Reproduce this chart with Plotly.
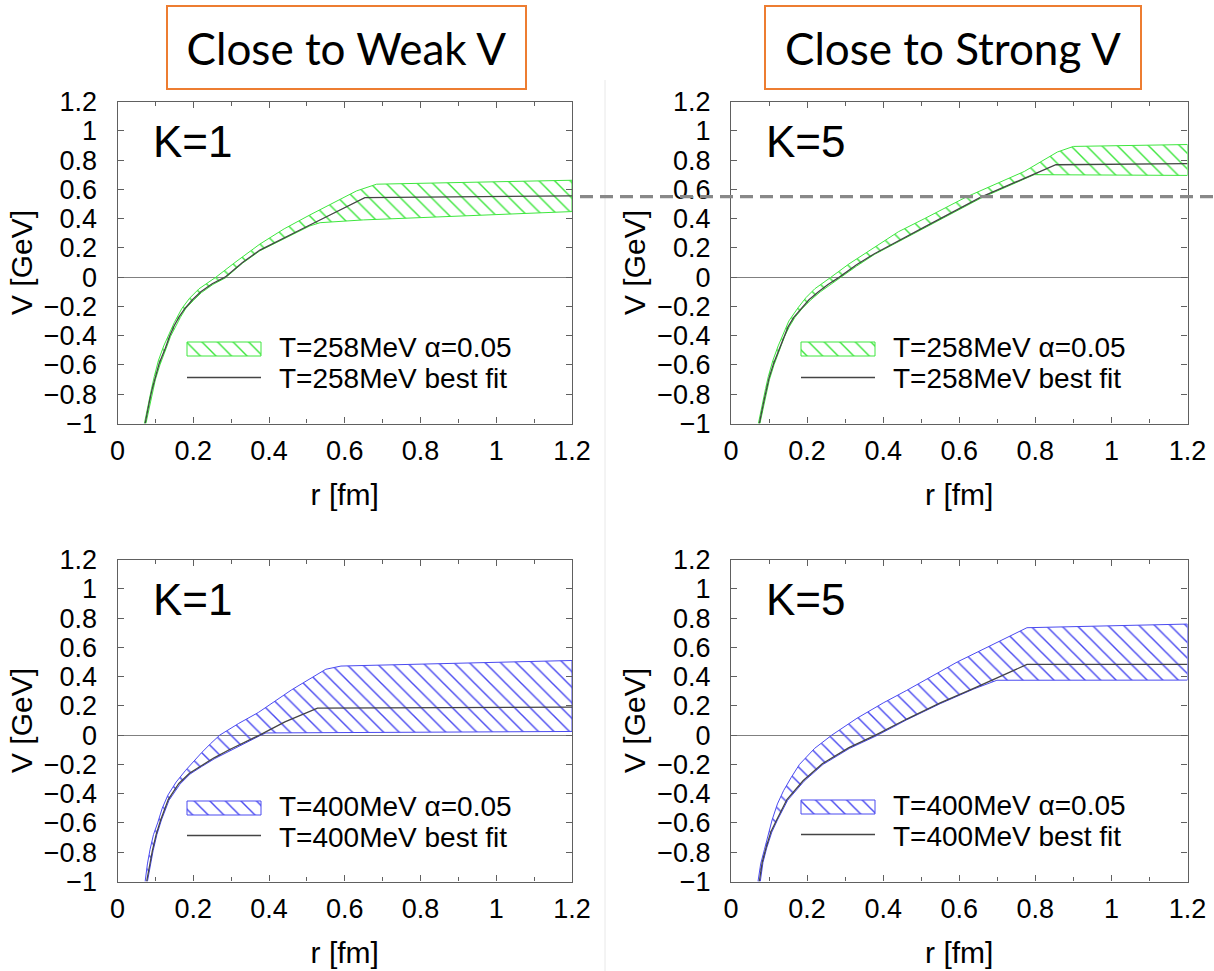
import plotly.graph_objects as go

# ---------------- data ----------------
r_ticks = [0, 0.2, 0.4, 0.6, 0.8, 1.0, 1.2]
r_ticktext = ["0", "0.2", "0.4", "0.6", "0.8", "1", "1.2"]
v_ticks = [-1, -0.8, -0.6, -0.4, -0.2, 0, 0.2, 0.4, 0.6, 0.8, 1.0, 1.2]
v_ticktext = ["\u22121", "\u22120.8", "\u22120.6", "\u22120.4", "\u22120.2", "0",
              "0.2", "0.4", "0.6", "0.8", "1", "1.2"]

col_titles = ["Close to Weak V", "Close to Strong V"]
k_labels = ["K=1", "K=5", "K=1", "K=5"]
band_names = ["T=258MeV \u03b1=0.05", "T=258MeV \u03b1=0.05",
              "T=400MeV \u03b1=0.05", "T=400MeV \u03b1=0.05"]
fit_names = ["T=258MeV best fit", "T=258MeV best fit",
             "T=400MeV best fit", "T=400MeV best fit"]
DASH_LEVEL = 0.55

# top-left: K=1, T=258 MeV
tl_fit_r = [0.073, 0.079, 0.085, 0.092, 0.099, 0.11, 0.126, 0.138, 0.15, 0.163, 0.178, 0.198, 0.22, 0.25, 0.284, 0.33, 0.376, 0.44, 0.508, 0.653, 1.2]
tl_fit_v = [-1.0, -0.915, -0.84, -0.76, -0.69, -0.59, -0.487, -0.40, -0.33, -0.27, -0.214, -0.155, -0.10, -0.045, 0.0, 0.10, 0.185, 0.27, 0.356, 0.543, 0.555]
tl_up_r = [0.071, 0.077, 0.083, 0.09, 0.097, 0.108, 0.122, 0.135, 0.150, 0.170, 0.19, 0.215, 0.24, 0.260, 0.31, 0.376, 0.44, 0.508, 0.631, 0.684, 1.2]
tl_up_v = [-1.0, -0.92, -0.84, -0.76, -0.68, -0.57, -0.47, -0.39, -0.31, -0.214, -0.145, -0.08, -0.035, 0.0, 0.10, 0.226, 0.33, 0.425, 0.589, 0.635, 0.662]
tl_lo_r = [0.075, 0.081, 0.087, 0.094, 0.10, 0.112, 0.128, 0.14, 0.153, 0.166, 0.18, 0.20, 0.222, 0.252, 0.285, 0.33, 0.376, 0.44, 0.508, 0.535, 0.649, 1.2]
tl_lo_v = [-1.0, -0.93, -0.86, -0.77, -0.70, -0.60, -0.49, -0.405, -0.335, -0.275, -0.215, -0.16, -0.105, -0.05, -0.005, 0.095, 0.18, 0.265, 0.35, 0.372, 0.391, 0.448]

# top-right: K=5, T=258 MeV
tr_fit_r = [0.0745, 0.08, 0.087, 0.093, 0.10, 0.112, 0.127, 0.138, 0.15, 0.165, 0.184, 0.205, 0.23, 0.255, 0.285, 0.33, 0.377, 0.44, 0.508, 0.657, 0.854, 1.2]
tr_fit_v = [-1.0, -0.92, -0.84, -0.77, -0.69, -0.59, -0.488, -0.41, -0.34, -0.275, -0.215, -0.155, -0.10, -0.05, 0.0, 0.085, 0.16, 0.25, 0.342, 0.547, 0.768, 0.775]
tr_up_r = [0.072, 0.078, 0.085, 0.091, 0.098, 0.11, 0.124, 0.137, 0.152, 0.176, 0.197, 0.22, 0.24, 0.263, 0.31, 0.377, 0.44, 0.508, 0.618, 0.771, 0.858, 0.90, 1.2]
tr_up_v = [-1.0, -0.92, -0.84, -0.76, -0.68, -0.57, -0.47, -0.39, -0.30, -0.21, -0.14, -0.08, -0.04, 0.0, 0.09, 0.206, 0.31, 0.399, 0.547, 0.722, 0.855, 0.893, 0.906]
tr_lo_r = [0.076, 0.082, 0.088, 0.095, 0.101, 0.113, 0.128, 0.14, 0.153, 0.168, 0.186, 0.21, 0.235, 0.26, 0.287, 0.33, 0.377, 0.44, 0.508, 0.657, 0.797, 1.2]
tr_lo_v = [-1.0, -0.92, -0.85, -0.77, -0.70, -0.60, -0.49, -0.41, -0.34, -0.275, -0.218, -0.155, -0.10, -0.05, -0.005, 0.075, 0.155, 0.245, 0.337, 0.54, 0.70, 0.695]

# bottom-left: K=1, T=400 MeV
bl_fit_r = [0.077, 0.084, 0.092, 0.102, 0.114, 0.134, 0.162, 0.19, 0.22, 0.255, 0.295, 0.335, 0.375, 0.442, 0.528, 1.2]
bl_fit_v = [-1.0, -0.89, -0.79, -0.68, -0.58, -0.44, -0.33, -0.26, -0.21, -0.155, -0.10, -0.05, 0.0, 0.09, 0.184, 0.192]
bl_up_r = [0.073, 0.079, 0.086, 0.095, 0.106, 0.118, 0.133, 0.155, 0.18, 0.20, 0.222, 0.245, 0.27, 0.32, 0.372, 0.46, 0.55, 0.59, 1.2]
bl_up_v = [-1.0, -0.88, -0.78, -0.68, -0.60, -0.50, -0.41, -0.32, -0.24, -0.18, -0.12, -0.06, 0.0, 0.08, 0.155, 0.31, 0.45, 0.472, 0.51]
bl_lo_r = [0.079, 0.086, 0.094, 0.104, 0.116, 0.136, 0.165, 0.192, 0.222, 0.257, 0.297, 0.337, 0.375, 0.392, 1.2]
bl_lo_v = [-1.0, -0.89, -0.79, -0.68, -0.58, -0.445, -0.335, -0.265, -0.215, -0.16, -0.105, -0.055, -0.005, 0.015, 0.025]

# bottom-right: K=5, T=400 MeV
br_fit_r = [0.0745, 0.082, 0.092, 0.105, 0.12, 0.147, 0.19, 0.24, 0.31, 0.38, 0.462, 0.55, 0.638, 0.70, 0.778, 1.2]
br_fit_v = [-1.0, -0.87, -0.77, -0.66, -0.58, -0.44, -0.31, -0.195, -0.085, 0.0, 0.11, 0.22, 0.32, 0.39, 0.483, 0.483]
br_up_r = [0.071, 0.078, 0.088, 0.097, 0.108, 0.122, 0.138, 0.158, 0.18, 0.22, 0.265, 0.331, 0.40, 0.462, 0.595, 0.778, 1.2]
br_up_v = [-1.0, -0.88, -0.78, -0.68, -0.58, -0.47, -0.38, -0.29, -0.2, -0.09, 0.0, 0.115, 0.22, 0.306, 0.50, 0.734, 0.759]
br_lo_r = [0.077, 0.084, 0.094, 0.107, 0.122, 0.149, 0.192, 0.242, 0.312, 0.382, 0.462, 0.55, 0.638, 0.699, 1.2]
br_lo_v = [-1.0, -0.87, -0.77, -0.665, -0.58, -0.445, -0.315, -0.2, -0.09, -0.005, 0.105, 0.215, 0.315, 0.375, 0.376]

panels = [
    (tl_fit_r, tl_fit_v, tl_up_r, tl_up_v, tl_lo_r, tl_lo_v),
    (tr_fit_r, tr_fit_v, tr_up_r, tr_up_v, tr_lo_r, tr_lo_v),
    (bl_fit_r, bl_fit_v, bl_up_r, bl_up_v, bl_lo_r, bl_lo_v),
    (br_fit_r, br_fit_v, br_up_r, br_up_v, br_lo_r, br_lo_v),
]

# ---------------- styling / layout (pixel positions) ----------------
W, H = 1214, 971
GREEN = "#3ee63e"
BLUE = "#4a4af0"
LINE_GRAY = "#444444"
band_colors = [GREEN, GREEN, BLUE, BLUE]
FONT = "Liberation Sans, Arial, sans-serif"
FRAME = "#606060"
TICK_SIZE = 27
TITLE_SIZE = 30
LEG_SIZE = 28

def px_x(p):
    return p / W

def px_y(p):
    return 1 - p / H

x_px = [(117.5, 572), (731, 1187.5)]
y_px = [(101.5, 423.5), (559.5, 881.5)]
# legend keys: (left, right, box top, box bottom, line y, text x, text1 y, text2 y) in page pixels
legend_keys = [(187, 261, 342, 356, 377.5, 278, 347.0, 378.5),
               (801, 875, 342, 356, 377.5, 892, 347.0, 378.5),
               (187, 261, 801, 815, 835.5, 278, 806.0, 837.0),
               (801, 875, 800, 814, 834.5, 892, 805.0, 836.0)]

pattern = lambda c: dict(shape="\\", fgcolor=c, bgcolor="rgba(0,0,0,0)",
                         size=11, solidity=0.13, fillmode="replace")

fig = go.Figure()
layout = dict(width=W, height=H, margin=dict(l=0, r=0, t=0, b=0, autoexpand=False),
              paper_bgcolor="white", plot_bgcolor="rgba(0,0,0,0)", showlegend=False,
              font=dict(family=FONT, color="black"))

for i, (fr, fv, ur, uv, lr, lv) in enumerate(panels):
    n = i + 1
    xa = "x" if n == 1 else f"x{n}"
    ya = "y" if n == 1 else f"y{n}"
    col = i % 2
    row = i // 2
    c = band_colors[i]
    fig.add_trace(go.Scatter(
        x=ur + lr[::-1], y=uv + lv[::-1], mode="lines", fill="toself",
        line=dict(color=c, width=1), fillcolor="rgba(0,0,0,0)",
        fillpattern=pattern(c), name=band_names[i], xaxis=xa, yaxis=ya, hoverinfo="skip"))
    fig.add_trace(go.Scatter(
        x=fr, y=fv, mode="lines", line=dict(color=LINE_GRAY, width=1.3),
        name=fit_names[i], xaxis=xa, yaxis=ya))

    x0, x1 = x_px[col]
    y0, y1 = y_px[row]
    axx = dict(domain=[px_x(x0), px_x(x1)], range=[0, 1.2], anchor=ya, automargin=False,
               tickvals=r_ticks, ticktext=r_ticktext, ticks="inside", ticklen=6,
               tickcolor=FRAME, minor=dict(dtick=0.1, tick0=0, ticks="inside", ticklen=4, tickcolor=FRAME),
               showline=True, linecolor=FRAME, linewidth=1.2, mirror="allticks",
               showgrid=False, zeroline=False, ticklabelstandoff=3,
               tickfont=dict(size=TICK_SIZE, family=FONT, color="black"),
               title=dict(text="r [fm]", font=dict(size=TITLE_SIZE, family=FONT, color="black"), standoff=18))
    axy = dict(domain=[px_y(y1), px_y(y0)], range=[-1, 1.2], anchor=xa, automargin=False,
               tickvals=v_ticks, ticktext=v_ticktext, ticks="inside", ticklen=6,
               tickcolor=FRAME, showline=True, linecolor=FRAME, linewidth=1.2,
               mirror="allticks", showgrid=False, zeroline=True, zerolinecolor="#808080",
               zerolinewidth=1, ticklabelstandoff=14,
               tickfont=dict(size=TICK_SIZE, family=FONT, color="black"),
               title=dict(text="V [GeV]", font=dict(size=TITLE_SIZE, family=FONT, color="black"), standoff=2))
    layout["xaxis" if n == 1 else f"xaxis{n}"] = axx
    layout["yaxis" if n == 1 else f"yaxis{n}"] = axy

# overlay subplot in page-pixel coordinates for the in-panel legends
layout["xaxis5"] = dict(domain=[0, 1], range=[0, W], visible=False, anchor="y5", fixedrange=True)
layout["yaxis5"] = dict(domain=[0, 1], range=[H, 0], visible=False, anchor="x5", fixedrange=True)

annotations = []
for i, (kl, kr, kt, kb, ly, tx, ty1, ty2) in enumerate(legend_keys):
    c = band_colors[i]
    fig.add_trace(go.Scatter(x=[kl, kr, kr, kl, kl], y=[kt, kt, kb, kb, kt], mode="lines",
                             fill="toself", line=dict(color=c, width=1), fillcolor="rgba(0,0,0,0)",
                             fillpattern=pattern(c), xaxis="x5", yaxis="y5", hoverinfo="skip"))
    fig.add_trace(go.Scatter(x=[kl, kr], y=[ly, ly], mode="lines",
                             line=dict(color=LINE_GRAY, width=1.3), xaxis="x5", yaxis="y5",
                             hoverinfo="skip"))
    annotations.append(dict(x=px_x(tx), y=px_y(ty1), xref="paper", yref="paper",
                            text=band_names[i], showarrow=False, xanchor="left", yanchor="middle",
                            borderpad=0, font=dict(size=LEG_SIZE, family=FONT, color="black")))
    annotations.append(dict(x=px_x(tx), y=px_y(ty2), xref="paper", yref="paper",
                            text=fit_names[i], showarrow=False, xanchor="left", yanchor="middle",
                            borderpad=0, font=dict(size=LEG_SIZE, family=FONT, color="black")))

fig.update_layout(**layout)

for i in range(4):
    n = i + 1
    xa = "x" if n == 1 else f"x{n}"
    ya = "y" if n == 1 else f"y{n}"
    annotations.append(dict(x=0.088, y=0.925, xref=xa, yref=ya, text=k_labels[i],
                            showarrow=False, xanchor="left", yanchor="middle",
                            font=dict(size=44, family=FONT, color="black")))
box_centers = [px_x(346.5), px_x(953)]
box_widths = [357, 374]
for j in range(2):
    annotations.append(dict(x=box_centers[j], y=px_y(5), xref="paper", yref="paper",
                            text=col_titles[j], showarrow=False, xanchor="center", yanchor="top",
                            width=box_widths[j], height=81, borderpad=0,
                            bordercolor="#ED7D31", borderwidth=2, bgcolor="white",
                            font=dict(size=44, family="Lato, Carlito, sans-serif", color="black")))
fig.update_layout(annotations=annotations)

fig.add_shape(type="line", xref="paper", yref="paper", x0=px_x(605), x1=px_x(605),
              y0=0, y1=px_y(80), line=dict(color="#e8e8e8", width=1), layer="below")
fig.add_shape(type="line", xref="paper", yref="y2", x0=px_x(580), x1=1.0,
              y0=DASH_LEVEL, y1=DASH_LEVEL, line=dict(color="#888888", width=3.3, dash="13px,7px"))

fig.write_html("out.html")
